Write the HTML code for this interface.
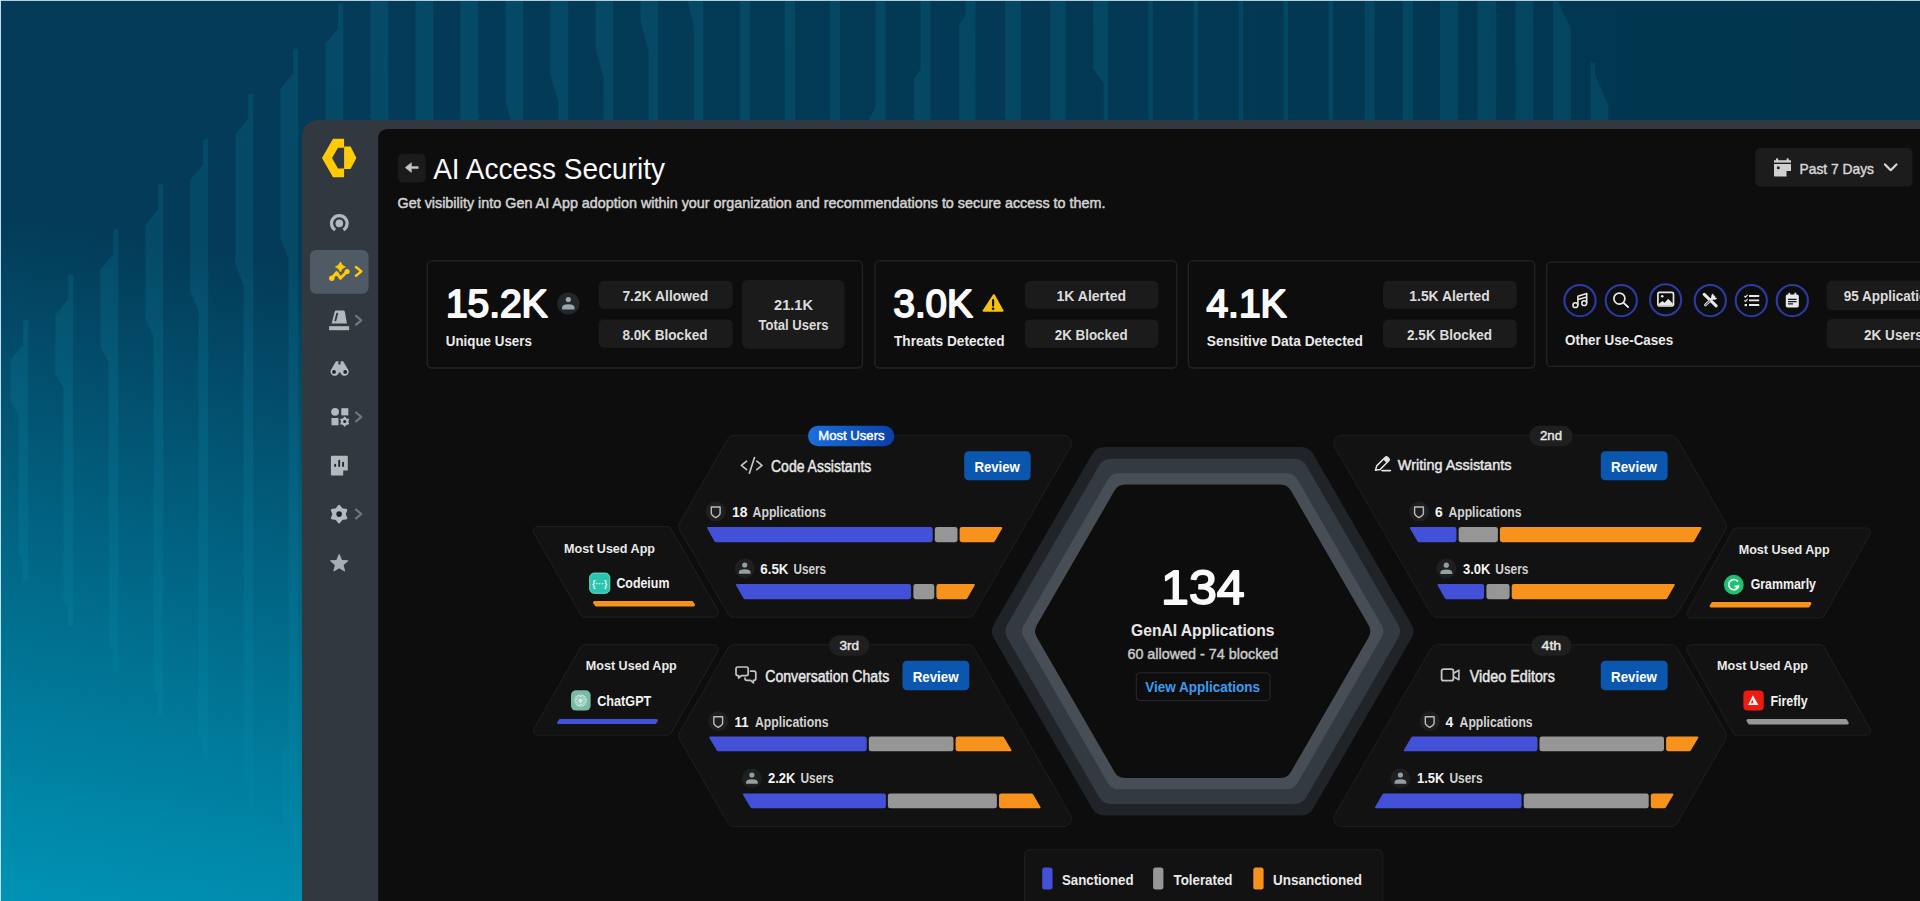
<!DOCTYPE html>
<html lang="en">
<head>
<meta charset="utf-8">
<title>AI Access Security</title>
<style>
html,body{margin:0;padding:0;background:#033b58;}
body{width:1920px;height:901px;overflow:hidden;position:relative;font-family:"Liberation Sans",sans-serif;}
#stage{position:absolute;left:0;top:0;width:1920px;height:901px;overflow:hidden;}
svg{position:absolute;left:0;top:0;display:block;}
svg text{font-family:"Liberation Sans",sans-serif;}
</style>
</head>
<body>
<div id="stage">
<svg id="backdrop" width="1920" height="901" viewBox="0 0 1920 901">
<defs>
<linearGradient id="bgg" gradientUnits="userSpaceOnUse" x1="44" y1="216" x2="-73.1" y2="880.3">
<stop offset="0" stop-color="#033b58"/><stop offset="1" stop-color="#0092b4"/>
</linearGradient>
<linearGradient id="topg" gradientUnits="userSpaceOnUse" x1="300" y1="0" x2="1920" y2="0">
<stop offset="0" stop-color="#033b58"/><stop offset="1" stop-color="#02364f"/>
</linearGradient>
<linearGradient id="barg" gradientUnits="userSpaceOnUse" x1="0" y1="0" x2="0" y2="901">
<stop offset="0" stop-color="#14c8e6" stop-opacity="0.105"/><stop offset="0.45" stop-color="#14c8e6" stop-opacity="0.10"/><stop offset="0.95" stop-color="#14c8e6" stop-opacity="0.03"/>
</linearGradient>
</defs>
<rect x="0" y="0" width="1920" height="901" fill="url(#topg)"/>
<rect x="0" y="0" width="320" height="901" fill="url(#bgg)"/>
<g fill="url(#barg)">
<path d="M23.20 320.00L28.20 320.00L28.20 581.00L23.20 581.00L23.20 561.00L18.60 555.00L18.60 414.00L10.40 401.00L10.40 360.00L23.20 345.00Z"/>
<path d="M68.20 274.80L73.20 274.80L73.20 626.00L68.20 626.00L68.20 606.00L63.60 600.00L63.60 388.10L55.40 373.80L55.40 314.80L68.20 299.80Z"/>
<path d="M113.20 229.60L118.20 229.60L118.20 671.00L113.20 671.00L113.20 651.00L108.60 645.00L108.60 362.20L100.40 346.60L100.40 269.60L113.20 254.60Z"/>
<path d="M158.20 184.40L163.20 184.40L163.20 716.00L158.20 716.00L158.20 696.00L153.60 690.00L153.60 336.30L145.40 319.40L145.40 224.40L158.20 209.40Z"/>
<path d="M203.20 139.20L208.20 139.20L208.20 761.00L203.20 761.00L203.20 741.00L198.60 735.00L198.60 310.40L190.40 292.20L190.40 179.20L203.20 164.20Z"/>
<path d="M248.20 94.00L253.20 94.00L253.20 806.00L248.20 806.00L248.20 786.00L243.60 780.00L243.60 284.50L235.40 265.00L235.40 134.00L248.20 119.00Z"/>
<path d="M293.20 48.80L298.20 48.80L298.20 851.00L293.20 851.00L293.20 831.00L288.60 825.00L288.60 258.60L280.40 237.80L280.40 88.80L293.20 73.80Z"/>
<path d="M338.20 3.60L343.20 3.60L343.20 896.00L338.20 896.00L338.20 876.00L333.60 870.00L333.60 232.70L325.40 210.60L325.40 43.60L338.20 28.60Z"/>
<path d="M383.20 -41.60L388.20 -41.60L388.20 941.00L383.20 941.00L383.20 921.00L378.60 915.00L378.60 206.80L370.40 183.40L370.40 -1.60L383.20 -16.60Z"/>
<path d="M428.20 -86.80L433.20 -86.80L433.20 986.00L428.20 986.00L428.20 966.00L423.60 960.00L423.60 180.90L415.40 156.20L415.40 -46.80L428.20 -61.80Z"/>
<path d="M473.20 -132.00L478.20 -132.00L478.20 1031.00L473.20 1031.00L473.20 1011.00L468.60 1005.00L468.60 155.00L460.40 129.00L460.40 -92.00L473.20 -107.00Z"/>
<path d="M518.20 -177.20L523.20 -177.20L523.20 1076.00L518.20 1076.00L518.20 1056.00L513.60 1050.00L513.60 129.10L505.40 101.80L505.40 -137.20L518.20 -152.20Z"/>
<path d="M563.20 -222.40L568.20 -222.40L568.20 1121.00L563.20 1121.00L563.20 1101.00L558.60 1095.00L558.60 103.20L550.40 74.60L550.40 -182.40L563.20 -197.40Z"/>
<path d="M608.20 -267.60L613.20 -267.60L613.20 1166.00L608.20 1166.00L608.20 1146.00L603.60 1140.00L603.60 77.30L595.40 47.40L595.40 -227.60L608.20 -242.60Z"/>
<path d="M653.20 -312.80L658.20 -312.80L658.20 1211.00L653.20 1211.00L653.20 1191.00L648.60 1185.00L648.60 51.40L640.40 20.20L640.40 -272.80L653.20 -287.80Z"/>
<path d="M698.20 -358.00L703.20 -358.00L703.20 1256.00L698.20 1256.00L698.20 1236.00L693.60 1230.00L693.60 25.50L685.40 -7.00L685.40 -318.00L698.20 -333.00Z"/>
<path d="M287.6 745L282 752V815L287.6 822Z"/>
<rect x="739.8" y="0" width="10.2" height="125"/>
<rect x="784.8" y="0" width="10.2" height="125"/>
<rect x="829.8" y="0" width="10.2" height="125"/>
<path d="M875.60 -5.00L885.40 -5.00L885.40 125.00L869.10 125.00L869.10 118.00L875.60 108.00Z"/>
<path d="M920.60 -5.00L930.40 -5.00L930.40 125.00L914.10 125.00L914.10 79.00L920.60 69.00Z"/>
<path d="M965.60 -5.00L975.40 -5.00L975.40 125.00L959.10 125.00L959.10 25.00L965.60 15.00Z"/>
<rect x="1005.1" y="0" width="15.6" height="125"/>
<rect x="1050.1" y="0" width="15.6" height="125"/>
<path d="M1093.30 -5.00L1108.00 -5.00L1108.00 125.00L1103.70 125.00L1103.70 83.00L1093.30 69.00Z"/>
<rect x="1148.4" y="0" width="4.3" height="125"/>
<rect x="1193.7" y="0" width="4.3" height="125"/>
<rect x="1238.7" y="0" width="4.3" height="125"/>
<rect x="1283.7" y="0" width="4.3" height="125"/>
<rect x="1328.7" y="0" width="4.3" height="125"/>
<rect x="1365" y="0" width="9.6" height="125"/>
<rect x="1402.7" y="0" width="10.3" height="125"/>
<rect x="1440" y="0" width="18" height="125"/>
<rect x="1477.5" y="0" width="18.3" height="125"/>
<rect x="1515.6" y="0" width="17.7" height="125"/>
<path d="M1553 -5H1555L1570.8 29V125H1553Z"/>
<path d="M1590.6 62.5H1595V75L1608.3 105V125H1590.6Z"/>
</g>
<rect x="0" y="0" width="1920" height="1" fill="#b9ccd8"/>
<rect x="0" y="0" width="1" height="901" fill="#bfe0ec"/>
</svg>
<svg id="app" width="1920" height="901" viewBox="0 0 1920 901">
<!-- window + sidebar -->
<path d="M302 905V138Q302 120 320 120H1925V905Z" fill="#313840"/>
<path d="M378.2 905V139Q378.2 129 388.2 129H1925V905Z" fill="#0d0d0d"/>
<g id="sidebar">
<path fill="#ffcb06" d="M333 138.7H344.1V147.8H338L332 158L338 168.4H344.1V177.3H333L322 158Z"/>
<path fill="#ffcb06" d="M344.1 146.6H350.6L356.4 158L350.6 169H344.1Z"/>
<path d="M335.17 230.01A7.8 7.8 0 1 1 343.43 230.01" fill="none" stroke="#b4b9be" stroke-width="3.2"/>
<circle cx="339.3" cy="223.4" r="3.8" fill="#b4b9be"/>
<rect x="310" y="250" width="58.5" height="43.8" rx="6" fill="#4f5a64"/>
<path d="M331.8 278.2L336.7 272.6L340.4 278.2L347.1 271.5" fill="none" stroke="#ffcb06" stroke-width="3" stroke-linejoin="round" stroke-linecap="round"/>
<circle cx="331.8" cy="278.2" r="2.7" fill="#ffcb06"/><circle cx="347.1" cy="271.5" r="2.6" fill="#ffcb06"/>
<path d="M340.4 261.9Q341.6 265.7 345.4 266.9Q341.6 268.1 340.4 271.9Q339.2 268.1 335.4 266.9Q339.2 265.7 340.4 261.9Z" fill="#ffcb06" stroke="#ffcb06" stroke-width="0.8" stroke-linejoin="round"/>
<path d="M356 267.0L361.3 271.4L356 275.79999999999995" fill="none" stroke="#ffcb06" stroke-width="2.5" stroke-linecap="round" stroke-linejoin="round"/>
<path d="M336.3 310.6H343.3Q344.6 310.6 344.9 311.9L346.9 323.6H331.6L334.6 311.9Q334.9 310.6 336.3 310.6Z" fill="#b4b9be"/>
<path d="M337.2 313.6L335.4 320.4" stroke="#313840" stroke-width="1.9" stroke-linecap="round"/>
<rect x="329.1" y="326.2" width="20" height="4" fill="#b4b9be"/>
<path d="M356 315.90000000000003L361.3 320.3L356 324.7" fill="none" stroke="#6f777e" stroke-width="2.2" stroke-linecap="round" stroke-linejoin="round"/>
<path d="M336 361.2H338.4V364.6H340.6V361.2H343.2L348.6 370.5A4.2 4.2 0 1 1 340.4 372.6H338.9A4.2 4.2 0 1 1 330.6 370.5Z" fill="#b4b9be"/>
<circle cx="334" cy="371.9" r="1.9" fill="#1d2329"/><circle cx="345.2" cy="371.9" r="1.9" fill="#1d2329"/>
<circle cx="335.1" cy="411.8" r="3.9" fill="#b4b9be"/>
<rect x="341.3" y="408.2" width="7" height="7.2" fill="#b4b9be"/>
<rect x="331.5" y="418" width="7" height="7.3" fill="#b4b9be"/>
<path d="M344.05 416.89A0.80 0.80 0 0 1 345.35 416.89L346.29 418.19A0.80 0.80 0 0 0 346.86 418.52L348.45 418.69A0.80 0.80 0 0 1 349.10 419.81L348.45 421.27A0.80 0.80 0 0 0 348.45 421.93L349.10 423.39A0.80 0.80 0 0 1 348.45 424.51L346.86 424.68A0.80 0.80 0 0 0 346.29 425.01L345.35 426.31A0.80 0.80 0 0 1 344.05 426.31L343.11 425.01A0.80 0.80 0 0 0 342.54 424.68L340.95 424.51A0.80 0.80 0 0 1 340.30 423.39L340.95 421.93A0.80 0.80 0 0 0 340.95 421.27L340.30 419.81A0.80 0.80 0 0 1 340.95 418.69L342.54 418.52A0.80 0.80 0 0 0 343.11 418.19Z" fill="#b4b9be"/>
<circle cx="344.7" cy="421.6" r="1.5" fill="#1d2329"/>
<path d="M356 412.5L361.3 416.9L356 421.29999999999995" fill="none" stroke="#6f777e" stroke-width="2.2" stroke-linecap="round" stroke-linejoin="round"/>
<path d="M331.9 455.7H346.8Q347.8 455.7 347.8 456.7V470.4H343.2V475.4H331.9Q330.9 475.4 330.9 474.4V456.7Q330.9 455.7 331.9 455.7Z" fill="#b4b9be"/>
<path d="M335.2 464.6V466M339.2 460.6V466M343.1 462.6V466" stroke="#22282e" stroke-width="1.9" stroke-linecap="round"/>
<path d="M337.81 505.65A1.60 1.60 0 0 1 340.39 505.65L341.98 507.82A1.60 1.60 0 0 0 343.10 508.46L345.77 508.76A1.60 1.60 0 0 1 347.06 510.99L345.98 513.46A1.60 1.60 0 0 0 345.98 514.74L347.06 517.21A1.60 1.60 0 0 1 345.77 519.44L343.10 519.74A1.60 1.60 0 0 0 341.98 520.38L340.39 522.55A1.60 1.60 0 0 1 337.81 522.55L336.22 520.38A1.60 1.60 0 0 0 335.10 519.74L332.43 519.44A1.60 1.60 0 0 1 331.14 517.21L332.22 514.74A1.60 1.60 0 0 0 332.22 513.46L331.14 510.99A1.60 1.60 0 0 1 332.43 508.76L335.10 508.46A1.60 1.60 0 0 0 336.22 507.82Z" fill="#b4b9be"/>
<circle cx="339.1" cy="514.1" r="2.8" fill="#1d2329"/>
<path d="M356 509.6L361.3 514L356 518.4" fill="none" stroke="#6f777e" stroke-width="2.2" stroke-linecap="round" stroke-linejoin="round"/>
<path d="M338.64 554.42A0.60 0.60 0 0 1 339.76 554.42L341.76 559.52A0.60 0.60 0 0 0 342.29 559.90L347.76 560.23A0.60 0.60 0 0 1 348.10 561.29L343.87 564.78A0.60 0.60 0 0 0 343.67 565.39L345.05 570.70A0.60 0.60 0 0 1 344.14 571.35L339.52 568.41A0.60 0.60 0 0 0 338.88 568.41L334.26 571.35A0.60 0.60 0 0 1 333.35 570.70L334.73 565.39A0.60 0.60 0 0 0 334.53 564.78L330.30 561.29A0.60 0.60 0 0 1 330.64 560.23L336.11 559.90A0.60 0.60 0 0 0 336.64 559.52Z" fill="#a8aeb5"/>
</g>
<g id="main">
<rect x="398.00" y="153.80" width="27.80" height="28.70" rx="5" fill="#1b1b1b"/>
<path d="M405.2 167.6L411.4 162.7V166.6H418.2V168.6H411.4V172.5Z" fill="#c6c6c6" stroke="#c6c6c6" stroke-width="0.5" stroke-linejoin="round"/>
<text x="433.20" y="178.60" font-size="30" font-weight="400" fill="#fafafa" text-anchor="start" textLength="231.80" lengthAdjust="spacingAndGlyphs">AI Access Security</text>
<text x="397.50" y="207.50" font-size="15" font-weight="400" fill="#d2d2d2" text-anchor="start" textLength="708.00" lengthAdjust="spacingAndGlyphs" stroke="#d2d2d2" stroke-width="0.5" stroke-linejoin="round">Get visibility into Gen AI App adoption within your organization and recommendations to secure access to them.</text>
<rect x="1755.30" y="148.00" width="157.10" height="38.60" rx="5" fill="#1c1c1c"/>
<text x="1799.50" y="173.80" font-size="14.5" font-weight="400" fill="#d6d6d6" text-anchor="start" textLength="74.50" lengthAdjust="spacingAndGlyphs" stroke="#d6d6d6" stroke-width="0.45" stroke-linejoin="round">Past 7 Days</text>
<path d="M1885 164.4L1890.7 170.2L1896.4 164.4" fill="none" stroke="#d6d6d6" stroke-width="2.2" stroke-linecap="round" stroke-linejoin="round"/>
<path d="M1774 160.2H1791V171H1786.5V176.6H1775Q1774 176.6 1774 175.6Z" fill="#d0d0d0"/>
<rect x="1776" y="158.4" width="2.2" height="3" fill="#d0d0d0"/><rect x="1786.6" y="158.4" width="2.2" height="3" fill="#d0d0d0"/>
<rect x="1774" y="162.6" width="17" height="1.4" fill="#1c1c1c"/><rect x="1777" y="166.5" width="2.6" height="2.6" fill="#1c1c1c"/>
<rect x="427.30" y="260.90" width="435.10" height="107.10" rx="4.5" fill="none" stroke="#242424" stroke-width="1.3"/>
<rect x="875.00" y="260.90" width="301.80" height="107.10" rx="4.5" fill="none" stroke="#242424" stroke-width="1.3"/>
<rect x="1188.30" y="260.90" width="346.40" height="107.10" rx="4.5" fill="none" stroke="#242424" stroke-width="1.3"/>
<rect x="1546.70" y="262.20" width="413.30" height="104.20" rx="4.5" fill="none" stroke="#242424" stroke-width="1.3"/>
<text x="445.90" y="316.90" font-size="38.5" font-weight="400" fill="#fafafa" text-anchor="start" textLength="101.70" lengthAdjust="spacingAndGlyphs" stroke="#fafafa" stroke-width="1.9" stroke-linejoin="round">15.2K</text>
<text x="445.80" y="345.50" font-size="14.5" font-weight="700" fill="#eaeaea" text-anchor="start" textLength="86.10" lengthAdjust="spacingAndGlyphs">Unique Users</text>
<circle cx="568.3" cy="303.5" r="11.1" fill="#23272a"/>
<circle cx="568.3" cy="299.6" r="2.6" fill="#9aa7ad"/><path d="M562.1 309.4V307.6Q562.1 304.2 568.3 304.2Q574.5 304.2 574.5 307.6V309.4Z" fill="#9aa7ad"/>
<rect x="598.50" y="280.70" width="134.10" height="28.00" rx="5.5" fill="#1b1b1b"/>
<text x="622.40" y="301.00" font-size="14.5" font-weight="700" fill="#dcdcdc" text-anchor="start" textLength="85.80" lengthAdjust="spacingAndGlyphs">7.2K Allowed</text>
<rect x="598.50" y="319.50" width="134.10" height="28.20" rx="5.5" fill="#1b1b1b"/>
<text x="622.40" y="339.80" font-size="14.5" font-weight="700" fill="#dcdcdc" text-anchor="start" textLength="85.10" lengthAdjust="spacingAndGlyphs">8.0K Blocked</text>
<rect x="742.00" y="280.00" width="102.50" height="68.70" rx="5.5" fill="#1b1b1b"/>
<text x="774.00" y="310.40" font-size="14.5" font-weight="700" fill="#dcdcdc" text-anchor="start" textLength="39.00" lengthAdjust="spacingAndGlyphs">21.1K</text>
<text x="758.50" y="330.30" font-size="14.5" font-weight="700" fill="#dcdcdc" text-anchor="start" textLength="70.00" lengthAdjust="spacingAndGlyphs">Total Users</text>
<text x="893.50" y="316.90" font-size="38.5" font-weight="400" fill="#fafafa" text-anchor="start" textLength="79.10" lengthAdjust="spacingAndGlyphs" stroke="#fafafa" stroke-width="1.9" stroke-linejoin="round">3.0K</text>
<text x="894.00" y="345.50" font-size="14.5" font-weight="700" fill="#eaeaea" text-anchor="start" textLength="110.50" lengthAdjust="spacingAndGlyphs">Threats Detected</text>
<path d="M993.1 294.6Q993.9 293.4 994.7 294.6L1003.4 310.2Q1004 311.8 1002.4 311.8H983.8Q982.2 311.8 982.8 310.2Z" fill="#f5c211"/>
<path d="M993.1 300V305.6" stroke="#1a1400" stroke-width="2.2" stroke-linecap="round"/><circle cx="993.1" cy="308.8" r="1.3" fill="#1a1400"/>
<rect x="1024.80" y="280.70" width="133.50" height="28.00" rx="5.5" fill="#1b1b1b"/>
<text x="1056.50" y="301.00" font-size="14.5" font-weight="700" fill="#dcdcdc" text-anchor="start" textLength="69.50" lengthAdjust="spacingAndGlyphs">1K Alerted</text>
<rect x="1024.80" y="319.50" width="133.50" height="28.20" rx="5.5" fill="#1b1b1b"/>
<text x="1054.80" y="339.80" font-size="14.5" font-weight="700" fill="#dcdcdc" text-anchor="start" textLength="72.80" lengthAdjust="spacingAndGlyphs">2K Blocked</text>
<text x="1206.40" y="316.90" font-size="38.5" font-weight="400" fill="#fafafa" text-anchor="start" textLength="80.20" lengthAdjust="spacingAndGlyphs" stroke="#fafafa" stroke-width="1.9" stroke-linejoin="round">4.1K</text>
<text x="1206.80" y="345.50" font-size="14.5" font-weight="700" fill="#eaeaea" text-anchor="start" textLength="156.00" lengthAdjust="spacingAndGlyphs">Sensitive Data Detected</text>
<rect x="1383.00" y="280.70" width="133.60" height="28.00" rx="5.5" fill="#1b1b1b"/>
<text x="1409.30" y="301.00" font-size="14.5" font-weight="700" fill="#dcdcdc" text-anchor="start" textLength="80.50" lengthAdjust="spacingAndGlyphs">1.5K Alerted</text>
<rect x="1383.00" y="319.50" width="133.60" height="28.20" rx="5.5" fill="#1b1b1b"/>
<text x="1407.10" y="339.80" font-size="14.5" font-weight="700" fill="#dcdcdc" text-anchor="start" textLength="84.90" lengthAdjust="spacingAndGlyphs">2.5K Blocked</text>
<text x="1565.00" y="344.50" font-size="14.5" font-weight="700" fill="#eaeaea" text-anchor="start" textLength="108.20" lengthAdjust="spacingAndGlyphs">Other Use-Cases</text>
<circle cx="1580" cy="300.6" r="15.6" fill="none" stroke="#2e3aa4" stroke-width="2.1"/>
<circle cx="1621.3" cy="300.6" r="15.6" fill="none" stroke="#2e3aa4" stroke-width="2.1"/>
<circle cx="1665.6" cy="299.8" r="15.6" fill="none" stroke="#2e3aa4" stroke-width="2.1"/>
<circle cx="1710.3" cy="300.6" r="15.6" fill="none" stroke="#2e3aa4" stroke-width="2.1"/>
<circle cx="1751.3" cy="300.6" r="15.6" fill="none" stroke="#2e3aa4" stroke-width="2.1"/>
<circle cx="1792.3" cy="300.6" r="15.6" fill="none" stroke="#2e3aa4" stroke-width="2.1"/>
<rect x="1826.60" y="280.50" width="133.60" height="29.50" rx="5.5" fill="#1b1b1b"/>
<text x="1843.80" y="300.60" font-size="14.5" font-weight="700" fill="#dcdcdc" text-anchor="start" textLength="99.20" lengthAdjust="spacingAndGlyphs">95 Applications</text>
<rect x="1826.60" y="319.00" width="133.60" height="29.50" rx="5.5" fill="#1b1b1b"/>
<text x="1864.10" y="339.60" font-size="14.5" font-weight="700" fill="#dcdcdc" text-anchor="start" textLength="58.60" lengthAdjust="spacingAndGlyphs">2K Users</text>
<circle cx="1575.4" cy="305.2" r="2.4" fill="none" stroke="#e8e8e8" stroke-width="1.5"/><circle cx="1584.2" cy="303.2" r="2.4" fill="none" stroke="#e8e8e8" stroke-width="1.5"/>
<path d="M1577.9 305.2V296.3L1586.7 293.6V303.2M1577.9 299.6L1586.7 296.9" fill="none" stroke="#e8e8e8" stroke-width="1.6" stroke-linejoin="round"/>
<circle cx="1619.4" cy="298.6" r="5.5" fill="none" stroke="#e8e8e8" stroke-width="1.7"/><path d="M1623.6 302.9L1628 307" stroke="#e8e8e8" stroke-width="1.9" stroke-linecap="round"/>
<rect x="1657.9" y="292.4" width="15.6" height="13.6" rx="1.6" fill="none" stroke="#e8e8e8" stroke-width="1.7"/>
<circle cx="1662.2" cy="296.3" r="1.3" fill="#e8e8e8"/><path d="M1658.6 305.6V304L1662.4 301L1664.6 302.8L1668.2 298.8L1672.8 303.6V305.6Z" fill="#e8e8e8"/>
<path d="M1704.2 294.4L1716.2 305.8" stroke="#e8e8e8" stroke-width="3" stroke-linecap="round"/>
<path d="M1714 296.8L1705.4 305" stroke="#e8e8e8" stroke-width="2.6" stroke-linecap="round"/><path d="M1705.4 305L1709.8 300.8" stroke="#0d0d0d" stroke-width="0.9" stroke-linecap="round"/>
<path d="M1713 293.6A3.2 3.2 0 1 0 1717.2 298L1715 297.4L1713.8 295.6Z" fill="#e8e8e8"/>
<path d="M1749 296H1759.2M1749 300.4H1759.2M1749 305H1759.2" stroke="#e8e8e8" stroke-width="1.8"/>
<path d="M1744.4 296L1745.5 297.1L1747.6 294.8M1744.4 300.4L1745.5 301.5L1747.6 299.2" fill="none" stroke="#e8e8e8" stroke-width="1.2"/><rect x="1744.6" y="304" width="2.4" height="2.2" fill="#e8e8e8"/>
<rect x="1785.8" y="294.6" width="13" height="12.8" rx="1.6" fill="#e8e8e8"/><rect x="1788.4" y="292.8" width="1.8" height="3" fill="#e8e8e8"/><rect x="1794.4" y="292.8" width="1.8" height="3" fill="#e8e8e8"/>
<path d="M1788 299.4H1796.6M1788 301.6H1796.6M1788 303.8H1793" stroke="#15161c" stroke-width="1.3"/>
</g>
<g id="hexmap">
<path d="M1092.25 454.00A14.00 14.00 0 0 1 1104.38 447.00L1301.02 447.00A14.00 14.00 0 0 1 1313.15 454.00L1411.47 624.30A14.00 14.00 0 0 1 1411.47 638.30L1313.15 808.60A14.00 14.00 0 0 1 1301.02 815.60L1104.38 815.60A14.00 14.00 0 0 1 1092.25 808.60L993.93 638.30A14.00 14.00 0 0 1 993.93 624.30Z" fill="#202429"/>
<path d="M1098.98 465.65A14.00 14.00 0 0 1 1111.10 458.65L1294.30 458.65A14.00 14.00 0 0 1 1306.42 465.65L1398.02 624.30A14.00 14.00 0 0 1 1398.02 638.30L1306.42 796.95A14.00 14.00 0 0 1 1294.30 803.95L1111.10 803.95A14.00 14.00 0 0 1 1098.98 796.95L1007.38 638.30A14.00 14.00 0 0 1 1007.38 624.30Z" fill="#333a42"/>
<path d="M1108.01 479.30A12.00 12.00 0 0 1 1118.41 473.30L1286.99 473.30A12.00 12.00 0 0 1 1297.39 479.30L1381.68 625.30A12.00 12.00 0 0 1 1381.68 637.30L1297.39 783.30A12.00 12.00 0 0 1 1286.99 789.30L1118.41 789.30A12.00 12.00 0 0 1 1108.01 783.30L1023.72 637.30A12.00 12.00 0 0 1 1023.72 625.30Z" fill="#474e56"/>
<path d="M1114.54 490.60A12.00 12.00 0 0 1 1124.93 484.60L1280.47 484.60A12.00 12.00 0 0 1 1290.86 490.60L1368.63 625.30A12.00 12.00 0 0 1 1368.63 637.30L1290.86 772.00A12.00 12.00 0 0 1 1280.47 778.00L1124.93 778.00A12.00 12.00 0 0 1 1114.54 772.00L1036.77 637.30A12.00 12.00 0 0 1 1036.77 625.30Z" fill="#0d0d0d"/>
<text x="1161.10" y="603.80" font-size="48" font-weight="400" fill="#fafafa" text-anchor="start" textLength="83.60" lengthAdjust="spacingAndGlyphs" stroke="#fafafa" stroke-width="1.8" stroke-linejoin="round">134</text>
<text x="1131.10" y="636.20" font-size="16.5" font-weight="700" fill="#e8e8e8" text-anchor="start" textLength="143.40" lengthAdjust="spacingAndGlyphs">GenAI Applications</text>
<text x="1127.40" y="658.50" font-size="15" font-weight="400" fill="#cacaca" text-anchor="start" textLength="150.90" lengthAdjust="spacingAndGlyphs" stroke="#cacaca" stroke-width="0.45" stroke-linejoin="round">60 allowed - 74 blocked</text>
<rect x="1136.30" y="672.80" width="133.70" height="27.80" rx="3.5" fill="none" stroke="#2a2a2a" stroke-width="1"/>
<text x="1145.30" y="691.90" font-size="15" font-weight="700" fill="#3d9cf0" text-anchor="start" textLength="114.70" lengthAdjust="spacingAndGlyphs">View Applications</text>
<path d="M727.69 439.31A8.00 8.00 0 0 1 734.62 435.30L1063.34 435.30A8.00 8.00 0 0 1 1070.26 447.30L974.31 613.30A8.00 8.00 0 0 1 967.38 617.30L734.62 617.30A8.00 8.00 0 0 1 727.69 613.29L679.90 530.29A8.00 8.00 0 0 1 679.90 522.31Z" fill="#121212" stroke="#1f1f1f" stroke-width="1"/>
<path d="M1725.30 522.31A8.00 8.00 0 0 1 1725.30 530.29L1677.51 613.29A8.00 8.00 0 0 1 1670.58 617.30L1437.82 617.30A8.00 8.00 0 0 1 1430.89 613.30L1334.94 447.30A8.00 8.00 0 0 1 1341.86 435.30L1670.58 435.30A8.00 8.00 0 0 1 1677.51 439.31Z" fill="#121212" stroke="#1f1f1f" stroke-width="1"/>
<path d="M679.90 739.69A8.00 8.00 0 0 1 679.90 731.71L727.69 648.71A8.00 8.00 0 0 1 734.62 644.70L967.38 644.70A8.00 8.00 0 0 1 974.31 648.70L1070.26 814.70A8.00 8.00 0 0 1 1063.34 826.70L734.62 826.70A8.00 8.00 0 0 1 727.69 822.69Z" fill="#121212" stroke="#1f1f1f" stroke-width="1"/>
<path d="M1677.51 822.69A8.00 8.00 0 0 1 1670.58 826.70L1341.86 826.70A8.00 8.00 0 0 1 1334.94 814.70L1430.89 648.70A8.00 8.00 0 0 1 1437.82 644.70L1670.58 644.70A8.00 8.00 0 0 1 1677.51 648.71L1725.30 731.71A8.00 8.00 0 0 1 1725.30 739.69Z" fill="#121212" stroke="#1f1f1f" stroke-width="1"/>
<path d="M534.07 533.34A4.50 4.50 0 0 1 537.97 526.60L667.19 526.60A4.50 4.50 0 0 1 671.10 528.86L717.93 610.46A4.50 4.50 0 0 1 714.03 617.20L584.81 617.20A4.50 4.50 0 0 1 580.90 614.94Z" fill="#121212" stroke="#1f1f1f" stroke-width="1"/>
<path d="M580.90 646.86A4.50 4.50 0 0 1 584.81 644.60L714.03 644.60A4.50 4.50 0 0 1 717.93 651.34L671.10 732.94A4.50 4.50 0 0 1 667.19 735.20L537.97 735.20A4.50 4.50 0 0 1 534.07 728.46Z" fill="#121212" stroke="#1f1f1f" stroke-width="1"/>
<path d="M1732.91 530.29A4.50 4.50 0 0 1 1736.83 528.00L1865.89 528.00A4.50 4.50 0 0 1 1869.81 534.71L1824.09 615.71A4.50 4.50 0 0 1 1820.17 618.00L1691.29 618.00A4.50 4.50 0 0 1 1687.37 611.29Z" fill="#121212" stroke="#1f1f1f" stroke-width="1"/>
<path d="M1687.34 651.29A4.50 4.50 0 0 1 1691.27 644.60L1820.16 644.60A4.50 4.50 0 0 1 1824.09 646.90L1869.84 728.50A4.50 4.50 0 0 1 1865.92 735.20L1736.84 735.20A4.50 4.50 0 0 1 1732.91 732.89Z" fill="#121212" stroke="#1f1f1f" stroke-width="1"/>
<path d="M707.25 528.59A1.00 1.00 0 0 1 708.12 527.10L930.30 527.10A2.40 2.40 0 0 1 932.70 529.50L932.70 539.80A2.40 2.40 0 0 1 930.30 542.20L716.40 542.20A2.40 2.40 0 0 1 714.31 540.99Z" fill="#4351d8"/>
<path d="M934.80 529.50A2.40 2.40 0 0 1 937.20 527.10L955.10 527.10A2.40 2.40 0 0 1 957.50 529.50L957.50 539.80A2.40 2.40 0 0 1 955.10 542.20L937.20 542.20A2.40 2.40 0 0 1 934.80 539.80Z" fill="#979696"/>
<path d="M959.60 529.50A2.40 2.40 0 0 1 962.00 527.10L1001.27 527.10A1.00 1.00 0 0 1 1002.14 528.60L994.99 541.00A2.40 2.40 0 0 1 992.91 542.20L962.00 542.20A2.40 2.40 0 0 1 959.60 539.80Z" fill="#f7931c"/>
<path d="M736.16 585.50A1.00 1.00 0 0 1 737.02 584.00L908.70 584.00A2.40 2.40 0 0 1 911.10 586.40L911.10 596.80A2.40 2.40 0 0 1 908.70 599.20L745.39 599.20A2.40 2.40 0 0 1 743.31 597.99Z" fill="#4351d8"/>
<path d="M913.40 586.40A2.40 2.40 0 0 1 915.80 584.00L931.90 584.00A2.40 2.40 0 0 1 934.30 586.40L934.30 596.80A2.40 2.40 0 0 1 931.90 599.20L915.80 599.20A2.40 2.40 0 0 1 913.40 596.80Z" fill="#979696"/>
<path d="M936.40 586.40A2.40 2.40 0 0 1 938.80 584.00L973.78 584.00A1.00 1.00 0 0 1 974.64 585.50L967.49 597.99A2.40 2.40 0 0 1 965.41 599.20L938.80 599.20A2.40 2.40 0 0 1 936.40 596.80Z" fill="#f7931c"/>
<path d="M1410.06 528.60A1.00 1.00 0 0 1 1410.93 527.10L1454.10 527.10A2.40 2.40 0 0 1 1456.50 529.50L1456.50 539.80A2.40 2.40 0 0 1 1454.10 542.20L1419.29 542.20A2.40 2.40 0 0 1 1417.21 541.00Z" fill="#4351d8"/>
<path d="M1458.60 529.50A2.40 2.40 0 0 1 1461.00 527.10L1495.50 527.10A2.40 2.40 0 0 1 1497.90 529.50L1497.90 539.80A2.40 2.40 0 0 1 1495.50 542.20L1461.00 542.20A2.40 2.40 0 0 1 1458.60 539.80Z" fill="#979696"/>
<path d="M1499.90 529.50A2.40 2.40 0 0 1 1502.30 527.10L1700.57 527.10A1.00 1.00 0 0 1 1701.44 528.60L1694.29 541.00A2.40 2.40 0 0 1 1692.21 542.20L1502.30 542.20A2.40 2.40 0 0 1 1499.90 539.80Z" fill="#f7931c"/>
<path d="M1437.66 585.50A1.00 1.00 0 0 1 1438.52 584.00L1481.70 584.00A2.40 2.40 0 0 1 1484.10 586.40L1484.10 596.80A2.40 2.40 0 0 1 1481.70 599.20L1446.89 599.20A2.40 2.40 0 0 1 1444.81 597.99Z" fill="#4351d8"/>
<path d="M1486.40 586.40A2.40 2.40 0 0 1 1488.80 584.00L1507.20 584.00A2.40 2.40 0 0 1 1509.60 586.40L1509.60 596.80A2.40 2.40 0 0 1 1507.20 599.20L1488.80 599.20A2.40 2.40 0 0 1 1486.40 596.80Z" fill="#979696"/>
<path d="M1511.70 586.40A2.40 2.40 0 0 1 1514.10 584.00L1673.68 584.00A1.00 1.00 0 0 1 1674.54 585.50L1667.39 597.99A2.40 2.40 0 0 1 1665.31 599.20L1514.10 599.20A2.40 2.40 0 0 1 1511.70 596.80Z" fill="#f7931c"/>
<path d="M709.39 738.01A1.00 1.00 0 0 1 710.25 736.50L864.30 736.50A2.40 2.40 0 0 1 866.70 738.90L866.70 748.90A2.40 2.40 0 0 1 864.30 751.30L718.57 751.30A2.40 2.40 0 0 1 716.50 750.12Z" fill="#4351d8"/>
<path d="M868.80 738.90A2.40 2.40 0 0 1 871.20 736.50L951.10 736.50A2.40 2.40 0 0 1 953.50 738.90L953.50 748.90A2.40 2.40 0 0 1 951.10 751.30L871.20 751.30A2.40 2.40 0 0 1 868.80 748.90Z" fill="#979696"/>
<path d="M955.60 738.90A2.40 2.40 0 0 1 958.00 736.50L1002.13 736.50A2.40 2.40 0 0 1 1004.20 737.68L1011.31 749.79A1.00 1.00 0 0 1 1010.45 751.30L958.00 751.30A2.40 2.40 0 0 1 955.60 748.90Z" fill="#f7931c"/>
<path d="M743.08 794.90A1.00 1.00 0 0 1 743.94 793.40L883.50 793.40A2.40 2.40 0 0 1 885.90 795.80L885.90 805.90A2.40 2.40 0 0 1 883.50 808.30L752.28 808.30A2.40 2.40 0 0 1 750.21 807.11Z" fill="#4351d8"/>
<path d="M887.90 795.80A2.40 2.40 0 0 1 890.30 793.40L994.50 793.40A2.40 2.40 0 0 1 996.90 795.80L996.90 805.90A2.40 2.40 0 0 1 994.50 808.30L890.30 808.30A2.40 2.40 0 0 1 887.90 805.90Z" fill="#979696"/>
<path d="M999.00 795.80A2.40 2.40 0 0 1 1001.40 793.40L1031.12 793.40A2.40 2.40 0 0 1 1033.19 794.59L1040.32 806.80A1.00 1.00 0 0 1 1039.46 808.30L1001.40 808.30A2.40 2.40 0 0 1 999.00 805.90Z" fill="#f7931c"/>
<path d="M1411.10 737.68A2.40 2.40 0 0 1 1413.17 736.50L1535.10 736.50A2.40 2.40 0 0 1 1537.50 738.90L1537.50 748.90A2.40 2.40 0 0 1 1535.10 751.30L1404.85 751.30A1.00 1.00 0 0 1 1403.99 749.79Z" fill="#4351d8"/>
<path d="M1539.50 738.90A2.40 2.40 0 0 1 1541.90 736.50L1661.60 736.50A2.40 2.40 0 0 1 1664.00 738.90L1664.00 748.90A2.40 2.40 0 0 1 1661.60 751.30L1541.90 751.30A2.40 2.40 0 0 1 1539.50 748.90Z" fill="#979696"/>
<path d="M1666.10 738.90A2.40 2.40 0 0 1 1668.50 736.50L1697.35 736.50A1.00 1.00 0 0 1 1698.21 738.01L1691.10 750.12A2.40 2.40 0 0 1 1689.03 751.30L1668.50 751.30A2.40 2.40 0 0 1 1666.10 748.90Z" fill="#f7931c"/>
<path d="M1382.31 794.59A2.40 2.40 0 0 1 1384.38 793.40L1519.20 793.40A2.40 2.40 0 0 1 1521.60 795.80L1521.60 805.90A2.40 2.40 0 0 1 1519.20 808.30L1376.04 808.30A1.00 1.00 0 0 1 1375.18 806.80Z" fill="#4351d8"/>
<path d="M1523.70 795.80A2.40 2.40 0 0 1 1526.10 793.40L1646.30 793.40A2.40 2.40 0 0 1 1648.70 795.80L1648.70 805.90A2.40 2.40 0 0 1 1646.30 808.30L1526.10 808.30A2.40 2.40 0 0 1 1523.70 805.90Z" fill="#979696"/>
<path d="M1650.80 795.80A2.40 2.40 0 0 1 1653.20 793.40L1672.36 793.40A1.00 1.00 0 0 1 1673.22 794.90L1666.09 807.11A2.40 2.40 0 0 1 1664.02 808.30L1653.20 808.30A2.40 2.40 0 0 1 1650.80 805.90Z" fill="#f7931c"/>
<path d="M593.30 603.23A1.40 1.40 0 0 1 594.50 601.10L692.01 601.10A1.40 1.40 0 0 1 693.21 601.77L694.80 604.37A1.40 1.40 0 0 1 693.60 606.50L596.09 606.50A1.40 1.40 0 0 1 594.89 605.83Z" fill="#f7931c"/>
<path d="M558.79 719.66A1.40 1.40 0 0 1 559.97 719.00L656.47 719.00A1.40 1.40 0 0 1 657.65 721.14L656.21 723.44A1.40 1.40 0 0 1 655.03 724.10L558.53 724.10A1.40 1.40 0 0 1 557.35 721.96Z" fill="#4351d8"/>
<path d="M1711.39 602.68A1.40 1.40 0 0 1 1712.59 602.00L1810.03 602.00A1.40 1.40 0 0 1 1811.23 604.12L1809.61 606.82A1.40 1.40 0 0 1 1808.41 607.50L1710.97 607.50A1.40 1.40 0 0 1 1709.77 605.38Z" fill="#f7931c"/>
<path d="M1746.70 721.13A1.40 1.40 0 0 1 1747.90 719.00L1845.71 719.00A1.40 1.40 0 0 1 1846.91 719.67L1848.50 722.27A1.40 1.40 0 0 1 1847.30 724.40L1749.49 724.40A1.40 1.40 0 0 1 1748.29 723.73Z" fill="#979696"/>
<defs><linearGradient id="mu" x1="0" y1="0" x2="1" y2="0"><stop offset="0" stop-color="#1b6fdc"/><stop offset="1" stop-color="#0a3fa6"/></linearGradient></defs>
<rect x="808.00" y="425.80" width="86.30" height="20.40" rx="10.199999999999989" fill="url(#mu)"/>
<text x="818.20" y="440.20" font-size="13.5" font-weight="400" fill="#ffffff" text-anchor="start" textLength="66.40" lengthAdjust="spacingAndGlyphs" stroke="#ffffff" stroke-width="0.45" stroke-linejoin="round">Most Users</text>
<text x="771.00" y="472.00" font-size="16" font-weight="400" fill="#e8e8e8" text-anchor="start" textLength="100.30" lengthAdjust="spacingAndGlyphs" stroke="#e8e8e8" stroke-width="0.45" stroke-linejoin="round">Code Assistants</text>
<rect x="964.20" y="451.30" width="66.40" height="28.90" rx="4.5" fill="#0b57b0"/>
<text x="974.40" y="472.00" font-size="15" font-weight="700" fill="#ffffff" text-anchor="start" textLength="45.50" lengthAdjust="spacingAndGlyphs">Review</text>
<circle cx="715.7" cy="511.6" r="10" fill="#1f1f1f"/>
<path d="M711.3000000000001 507.0H720.1V513.2Q720.1 515.2 715.7 517.6Q711.3000000000001 515.2 711.3000000000001 513.2Z" fill="none" stroke="#bdbdbd" stroke-width="1.4" stroke-linejoin="round"/>
<text x="732.00" y="516.80" font-size="14.5" font-weight="700" fill="#f2f2f2" text-anchor="start" textLength="15.50" lengthAdjust="spacingAndGlyphs">18</text>
<text x="752.60" y="516.80" font-size="14.5" font-weight="700" fill="#d2d2d2" text-anchor="start" textLength="73.40" lengthAdjust="spacingAndGlyphs">Applications</text>
<circle cx="744.7" cy="568.2" r="10" fill="#1f1f1f"/>
<circle cx="744.7" cy="565.0" r="2.6" fill="#949fa4"/><path d="M738.8000000000001 573.8000000000001V572.4000000000001Q738.8000000000001 569.2 744.7 569.2Q750.6 569.2 750.6 572.4000000000001V573.8000000000001Z" fill="#949fa4"/>
<text x="760.30" y="573.60" font-size="14.5" font-weight="700" fill="#f2f2f2" text-anchor="start" textLength="28.20" lengthAdjust="spacingAndGlyphs">6.5K</text>
<text x="793.50" y="573.60" font-size="14.5" font-weight="700" fill="#d2d2d2" text-anchor="start" textLength="32.50" lengthAdjust="spacingAndGlyphs">Users</text>
<rect x="1529.30" y="425.80" width="43.40" height="20.40" rx="10.199999999999989" fill="#1f1f1f"/>
<text x="1540.00" y="440.20" font-size="13.5" font-weight="400" fill="#e6e6e6" text-anchor="start" textLength="22.00" lengthAdjust="spacingAndGlyphs" stroke="#e6e6e6" stroke-width="0.45" stroke-linejoin="round">2nd</text>
<text x="1397.80" y="469.50" font-size="15.2" font-weight="400" fill="#e8e8e8" text-anchor="start" textLength="113.60" lengthAdjust="spacingAndGlyphs" stroke="#e8e8e8" stroke-width="0.45" stroke-linejoin="round">Writing Assistants</text>
<rect x="1600.80" y="451.30" width="66.80" height="28.90" rx="4.5" fill="#0b57b0"/>
<text x="1611.00" y="472.00" font-size="15" font-weight="700" fill="#ffffff" text-anchor="start" textLength="46.00" lengthAdjust="spacingAndGlyphs">Review</text>
<circle cx="1419" cy="511.6" r="10" fill="#1f1f1f"/>
<path d="M1414.6 507.0H1423.4V513.2Q1423.4 515.2 1419 517.6Q1414.6 515.2 1414.6 513.2Z" fill="none" stroke="#bdbdbd" stroke-width="1.4" stroke-linejoin="round"/>
<text x="1434.90" y="516.80" font-size="14.5" font-weight="700" fill="#f2f2f2" text-anchor="start" textLength="7.70" lengthAdjust="spacingAndGlyphs">6</text>
<text x="1448.40" y="516.80" font-size="14.5" font-weight="700" fill="#d2d2d2" text-anchor="start" textLength="73.20" lengthAdjust="spacingAndGlyphs">Applications</text>
<circle cx="1446.3" cy="568.4" r="10" fill="#1f1f1f"/>
<circle cx="1446.3" cy="565.1999999999999" r="2.6" fill="#949fa4"/><path d="M1440.3999999999999 574.0V572.6Q1440.3999999999999 569.4 1446.3 569.4Q1452.2 569.4 1452.2 572.6V574.0Z" fill="#949fa4"/>
<text x="1463.00" y="573.60" font-size="14.5" font-weight="700" fill="#f2f2f2" text-anchor="start" textLength="27.40" lengthAdjust="spacingAndGlyphs">3.0K</text>
<text x="1495.30" y="573.60" font-size="14.5" font-weight="700" fill="#d2d2d2" text-anchor="start" textLength="33.20" lengthAdjust="spacingAndGlyphs">Users</text>
<rect x="829.00" y="635.30" width="40.30" height="20.40" rx="10.200000000000045" fill="#1f1f1f"/>
<text x="839.40" y="649.70" font-size="13.5" font-weight="400" fill="#e6e6e6" text-anchor="start" textLength="19.60" lengthAdjust="spacingAndGlyphs" stroke="#e6e6e6" stroke-width="0.45" stroke-linejoin="round">3rd</text>
<text x="765.20" y="682.00" font-size="16" font-weight="400" fill="#e8e8e8" text-anchor="start" textLength="124.00" lengthAdjust="spacingAndGlyphs" stroke="#e8e8e8" stroke-width="0.45" stroke-linejoin="round">Conversation Chats</text>
<rect x="902.50" y="660.80" width="66.80" height="29.40" rx="4.5" fill="#0b57b0"/>
<text x="912.70" y="681.60" font-size="15" font-weight="700" fill="#ffffff" text-anchor="start" textLength="45.90" lengthAdjust="spacingAndGlyphs">Review</text>
<circle cx="718.2" cy="721.3" r="10" fill="#1f1f1f"/>
<path d="M713.8000000000001 716.6999999999999H722.6V722.9Q722.6 724.9 718.2 727.3Q713.8000000000001 724.9 713.8000000000001 722.9Z" fill="none" stroke="#bdbdbd" stroke-width="1.4" stroke-linejoin="round"/>
<text x="734.50" y="726.50" font-size="14.5" font-weight="700" fill="#f2f2f2" text-anchor="start" textLength="14.00" lengthAdjust="spacingAndGlyphs">11</text>
<text x="755.00" y="726.50" font-size="14.5" font-weight="700" fill="#d2d2d2" text-anchor="start" textLength="73.50" lengthAdjust="spacingAndGlyphs">Applications</text>
<circle cx="751.9" cy="778.2" r="10" fill="#1f1f1f"/>
<circle cx="751.9" cy="775.0" r="2.6" fill="#949fa4"/><path d="M746.0 783.8000000000001V782.4000000000001Q746.0 779.2 751.9 779.2Q757.8 779.2 757.8 782.4000000000001V783.8000000000001Z" fill="#949fa4"/>
<text x="768.00" y="783.40" font-size="14.5" font-weight="700" fill="#f2f2f2" text-anchor="start" textLength="27.40" lengthAdjust="spacingAndGlyphs">2.2K</text>
<text x="800.40" y="783.40" font-size="14.5" font-weight="700" fill="#d2d2d2" text-anchor="start" textLength="33.20" lengthAdjust="spacingAndGlyphs">Users</text>
<rect x="1531.30" y="635.30" width="40.10" height="20.40" rx="10.200000000000045" fill="#1f1f1f"/>
<text x="1541.50" y="649.70" font-size="13.5" font-weight="400" fill="#e6e6e6" text-anchor="start" textLength="19.70" lengthAdjust="spacingAndGlyphs" stroke="#e6e6e6" stroke-width="0.45" stroke-linejoin="round">4th</text>
<text x="1469.80" y="682.00" font-size="16" font-weight="400" fill="#e8e8e8" text-anchor="start" textLength="85.00" lengthAdjust="spacingAndGlyphs" stroke="#e8e8e8" stroke-width="0.45" stroke-linejoin="round">Video Editors</text>
<rect x="1600.80" y="660.80" width="66.80" height="29.40" rx="4.5" fill="#0b57b0"/>
<text x="1611.00" y="681.60" font-size="15" font-weight="700" fill="#ffffff" text-anchor="start" textLength="46.00" lengthAdjust="spacingAndGlyphs">Review</text>
<circle cx="1429.7" cy="721.3" r="10" fill="#1f1f1f"/>
<path d="M1425.3 716.6999999999999H1434.1000000000001V722.9Q1434.1000000000001 724.9 1429.7 727.3Q1425.3 724.9 1425.3 722.9Z" fill="none" stroke="#bdbdbd" stroke-width="1.4" stroke-linejoin="round"/>
<text x="1445.60" y="726.50" font-size="14.5" font-weight="700" fill="#f2f2f2" text-anchor="start" textLength="7.80" lengthAdjust="spacingAndGlyphs">4</text>
<text x="1459.60" y="726.50" font-size="14.5" font-weight="700" fill="#d2d2d2" text-anchor="start" textLength="73.00" lengthAdjust="spacingAndGlyphs">Applications</text>
<circle cx="1400.4" cy="778.2" r="10" fill="#1f1f1f"/>
<circle cx="1400.4" cy="775.0" r="2.6" fill="#949fa4"/><path d="M1394.5 783.8000000000001V782.4000000000001Q1394.5 779.2 1400.4 779.2Q1406.3000000000002 779.2 1406.3000000000002 782.4000000000001V783.8000000000001Z" fill="#949fa4"/>
<text x="1417.00" y="783.40" font-size="14.5" font-weight="700" fill="#f2f2f2" text-anchor="start" textLength="27.40" lengthAdjust="spacingAndGlyphs">1.5K</text>
<text x="1449.40" y="783.40" font-size="14.5" font-weight="700" fill="#d2d2d2" text-anchor="start" textLength="33.20" lengthAdjust="spacingAndGlyphs">Users</text>
<path d="M746.6 461.2L741.4 465.4L746.6 469.6M756.8 461.2L762 465.4L756.8 469.6M754.5 457.6L749.4 473.2" fill="none" stroke="#c4c4c4" stroke-width="1.7" stroke-linecap="round" stroke-linejoin="round"/>
<path d="M1375.5 470.3L1376.7 465.9L1385.3 457.3Q1386.4 456.2 1387.5 457.3L1388.8 458.6Q1389.9 459.7 1388.8 460.8L1380.2 469.4Z" fill="none" stroke="#e2e2e2" stroke-width="1.5" stroke-linejoin="round"/>
<path d="M1383.2 459.4L1385.3 457.3Q1386.4 456.2 1387.5 457.3L1388.8 458.6Q1389.9 459.7 1388.8 460.8L1386.7 462.9Z" fill="#e2e2e2"/>
<path d="M1382 470.6H1390.4" stroke="#e2e2e2" stroke-width="1.6" stroke-linecap="round"/>
<path d="M737.8 667H746.4Q748.2 667 748.2 668.8V673.8Q748.2 675.6 746.4 675.6H741.4L738.6 678V675.6H737.8Q736 675.6 736 673.8V668.8Q736 667 737.8 667Z" fill="none" stroke="#c4c4c4" stroke-width="1.7" stroke-linejoin="round"/>
<path d="M750.6 671.2H754Q755.8 671.2 755.8 673V678.6Q755.8 680.4 754 680.4H753.4V682.8L750.6 680.4H746.8Q745 680.4 745 678.6V678" fill="none" stroke="#c4c4c4" stroke-width="1.7" stroke-linejoin="round" stroke-linecap="round"/>
<rect x="1441.6" y="669.2" width="11.8" height="11.5" rx="2" fill="none" stroke="#c4c4c4" stroke-width="1.8"/><path d="M1453.6 673.2L1458.9 670.2V679.8L1453.6 676.8" fill="none" stroke="#c4c4c4" stroke-width="1.6" stroke-linejoin="round"/>
<text x="564.00" y="552.60" font-size="13.6" font-weight="700" fill="#eaeaea" text-anchor="start" textLength="91.00" lengthAdjust="spacingAndGlyphs">Most Used App</text>
<text x="585.80" y="669.80" font-size="13.6" font-weight="700" fill="#eaeaea" text-anchor="start" textLength="91.00" lengthAdjust="spacingAndGlyphs">Most Used App</text>
<text x="1738.70" y="554.00" font-size="13.6" font-weight="700" fill="#eaeaea" text-anchor="start" textLength="91.00" lengthAdjust="spacingAndGlyphs">Most Used App</text>
<text x="1717.00" y="669.80" font-size="13.6" font-weight="700" fill="#eaeaea" text-anchor="start" textLength="91.00" lengthAdjust="spacingAndGlyphs">Most Used App</text>
<text x="616.40" y="587.70" font-size="13.9" font-weight="700" fill="#f2f2f2" text-anchor="start" textLength="53.00" lengthAdjust="spacingAndGlyphs">Codeium</text>
<text x="597.20" y="705.80" font-size="13.9" font-weight="700" fill="#f2f2f2" text-anchor="start" textLength="54.10" lengthAdjust="spacingAndGlyphs">ChatGPT</text>
<text x="1750.70" y="589.40" font-size="13.9" font-weight="700" fill="#f2f2f2" text-anchor="start" textLength="65.30" lengthAdjust="spacingAndGlyphs">Grammarly</text>
<text x="1770.40" y="705.80" font-size="13.9" font-weight="700" fill="#f2f2f2" text-anchor="start" textLength="37.30" lengthAdjust="spacingAndGlyphs">Firefly</text>
<rect x="589.70" y="573.10" width="20.10" height="20.20" rx="4.5" fill="#2bc4ac" stroke="#62e3cf" stroke-width="1"/>
<text x="599.75" y="586.60" font-size="9.5" font-weight="700" fill="#eafffb" text-anchor="middle" textLength="15.00" lengthAdjust="spacingAndGlyphs">{···}</text>
<rect x="571.00" y="690.20" width="19.60" height="20.40" rx="5" fill="#78bba7"/>
<circle cx="580.6" cy="700.6" r="6.1" fill="#dcefe9" opacity="0.9"/>
<g fill="none" stroke="#8cc5b4" stroke-width="0.9"><ellipse cx="580.6" cy="700.6" rx="2.6" ry="5.2"/><ellipse cx="580.6" cy="700.6" rx="2.6" ry="5.2" transform="rotate(60 580.6 700.6)"/><ellipse cx="580.6" cy="700.6" rx="2.6" ry="5.2" transform="rotate(120 580.6 700.6)"/></g>
<circle cx="1733.8" cy="584.7" r="9.9" fill="#1fc072"/><path d="M1737.6 581.2A5.1 5.1 0 1 0 1738.6 586.4H1735.2" fill="none" stroke="#f2fff8" stroke-width="1.7" stroke-linecap="round"/><path d="M1738.9 584.6V587.9H1735.6Z" fill="#f2fff8"/>
<rect x="1743.40" y="690.40" width="20.30" height="20.00" rx="4" fill="#ee1c10"/>
<path d="M1752.9 695.2L1758.4 704.9H1748L1752.9 695.2ZM1752.6 699.6L1750.8 703.2H1753.4Z" fill="#fff3f0" fill-rule="evenodd"/>
<path d="M1024.5 905V855.3Q1024.5 849.8 1030 849.8H1377.3Q1382.8 849.8 1382.8 855.3V905" fill="#121212" stroke="#1f1f1f" stroke-width="1"/>
<rect x="1042.20" y="867.60" width="10.30" height="21.90" rx="2.5" fill="#4351d8"/>
<rect x="1153.10" y="867.60" width="10.30" height="21.90" rx="2.5" fill="#979696"/>
<rect x="1253.30" y="867.60" width="10.30" height="21.90" rx="2.5" fill="#f7931c"/>
<text x="1062.00" y="884.70" font-size="15.2" font-weight="700" fill="#eaeaea" text-anchor="start" textLength="71.50" lengthAdjust="spacingAndGlyphs">Sanctioned</text>
<text x="1173.50" y="884.70" font-size="15.2" font-weight="700" fill="#eaeaea" text-anchor="start" textLength="59.00" lengthAdjust="spacingAndGlyphs">Tolerated</text>
<text x="1273.00" y="884.70" font-size="15.2" font-weight="700" fill="#eaeaea" text-anchor="start" textLength="89.00" lengthAdjust="spacingAndGlyphs">Unsanctioned</text>
</g>
</svg>
</div>
</body>
</html>
